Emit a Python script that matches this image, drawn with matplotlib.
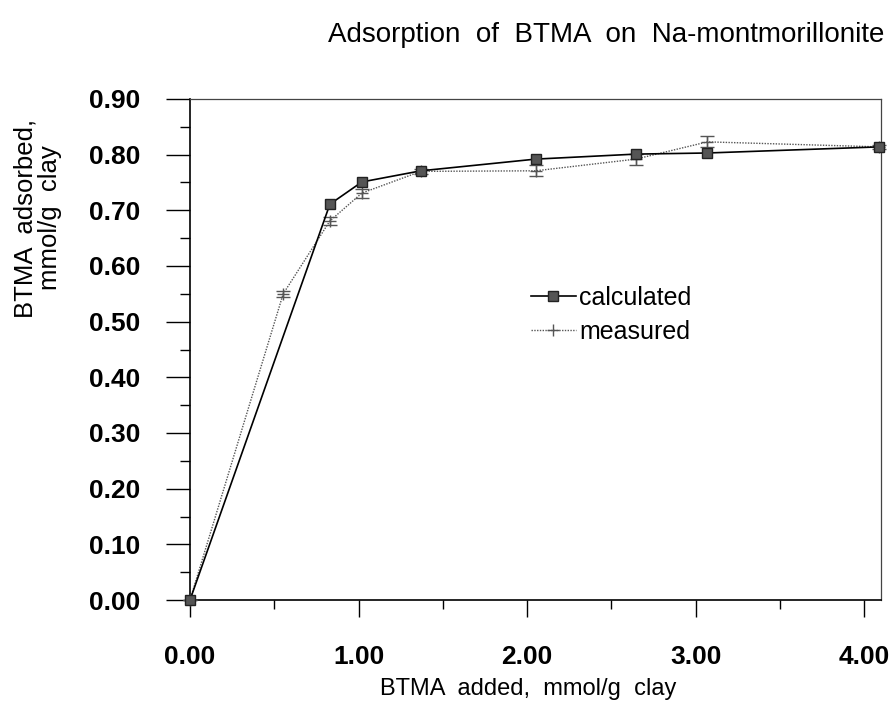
import matplotlib
matplotlib.use("Agg")
import matplotlib.pyplot as plt
from matplotlib.lines import Line2D
from matplotlib.ticker import MultipleLocator, FormatStrFormatter

plt.rcParams['font.family'] = ['Liberation Sans', 'DejaVu Sans']

# Data
calc_x = [0.0, 0.83, 1.02, 1.37, 2.05, 2.645, 3.07, 4.09]
calc_y = [0.0, 0.711, 0.751, 0.771, 0.792, 0.801, 0.803, 0.814]

meas_x = [0.0, 0.553, 0.83, 1.02, 1.37, 2.05, 2.645, 3.07, 4.09]
meas_y = [0.0, 0.550, 0.681, 0.731, 0.770, 0.771, 0.792, 0.823, 0.814]
meas_err = [0.0, 0.005, 0.007, 0.008, 0.005, 0.010, 0.010, 0.010, 0.004]

title = "Adsorption  of  BTMA  on  Na-montmorillonite"
xlabel = "BTMA  added,  mmol/g  clay"
ylabel = "BTMA  adsorbed,\nmmol/g  clay"

W, H = 892, 703
fig = plt.figure(figsize=(W / 100, H / 100), dpi=100)
ax = fig.add_axes([190 / W, 1 - 600 / H, (881 - 190) / W, (600 - 99) / H])

meas_style = dict(color='#555555', linestyle=(0, (1, 1)), linewidth=1.0,
                  marker='+', markersize=8, markeredgewidth=1.0)
calc_style = dict(color='black', linewidth=1.2, marker='s', markersize=7,
                  markerfacecolor='#555555', markeredgecolor='#222222',
                  markeredgewidth=1.0)

eb = ax.errorbar(meas_x, meas_y, yerr=meas_err, capsize=5, capthick=1.0,
                 elinewidth=1.0, zorder=3, **meas_style)
for art in eb.lines[:2]:
    if art is None:
        continue
    arts = art if isinstance(art, tuple) else (art,)
    for a in arts:
        a.set_clip_on(False)
ax.plot(calc_x, calc_y, zorder=4, clip_on=False, **calc_style)

ax.set_xlim(0, 4.1)
ax.set_ylim(0, 0.9)
ax.xaxis.set_major_locator(MultipleLocator(1.0))
ax.xaxis.set_minor_locator(MultipleLocator(0.5))
ax.yaxis.set_major_locator(MultipleLocator(0.1))
ax.yaxis.set_minor_locator(MultipleLocator(0.05))
ax.xaxis.set_major_formatter(FormatStrFormatter('%.2f'))
ax.yaxis.set_major_formatter(FormatStrFormatter('%.2f'))
ax.tick_params(axis='x', which='major', direction='out', length=12.5, width=1.0,
               labelsize=19, pad=20)
ax.tick_params(axis='x', which='minor', direction='out', length=6.5, width=1.0)
ax.tick_params(axis='y', which='major', direction='out', length=17, width=1.0,
               labelsize=19, pad=19)
ax.tick_params(axis='y', which='minor', direction='out', length=7, width=1.0)
ax.tick_params(top=False, right=False, which='both')
for lbl in ax.get_xticklabels() + ax.get_yticklabels():
    lbl.set_fontweight('bold')
for s in ax.spines.values():
    s.set_linewidth(1.2)
ax.spines['top'].set_color('#444444')
ax.spines['right'].set_color('#444444')
ax.spines['top'].set_linewidth(0.9)
ax.spines['right'].set_linewidth(0.9)

fig.text(528 / W, 1 - 689 / H, xlabel, ha='center', va='center', fontsize=17)
fig.text(38 / W, 1 - 218 / H, ylabel, rotation=90, ha='center', va='center',
         multialignment='center', fontsize=18.5, linespacing=1.05)
fig.text(606 / W, 1 - 35 / H, title, ha='center', va='center', fontsize=20)

handles = [Line2D([], [], **calc_style), Line2D([], [], **meas_style)]
fig.legend(handles, ['calculated', 'measured'], loc='center left',
           bbox_to_anchor=(508 / W, 1 - 315 / H), frameon=False,
           fontsize=18, handlelength=1.8, handletextpad=0.15,
           labelspacing=0.4)

fig.savefig('out.png', dpi=100)
